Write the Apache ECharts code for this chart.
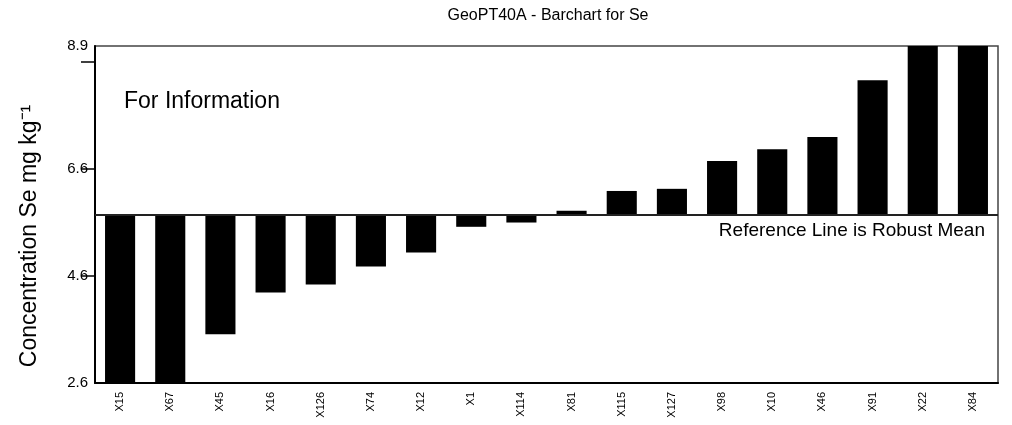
<!DOCTYPE html>
<html>
<head>
<meta charset="utf-8">
<script src="https://cdn.jsdelivr.net/npm/echarts@6/dist/echarts.min.js"></script>
<style>
  html, body { margin: 0; padding: 0; background: #fff; }
  #chart { width: 1012px; height: 425px; }
</style>
</head>
<body>
<div id="chart"></div>
<script>
// Laboratory codes, sorted by reported Se result
const labs = ['X15', 'X67', 'X45', 'X16', 'X126', 'X74', 'X12', 'X1', 'X114',
              'X81', 'X115', 'X127', 'X98', 'X10', 'X46', 'X91', 'X22', 'X84'];
// Reported concentrations (mg/kg)
const results = [2.6, 2.6, 3.51, 4.29, 4.44, 4.78, 5.04, 5.52, 5.60,
                 5.82, 6.19, 6.23, 6.75, 6.97, 7.20, 8.26, 8.9, 8.9];
// Robust mean used as the reference line
const robustMean = 5.74;
// Axis range and tick positions
const yMin = 2.6;
const yMax = 8.9;
const tickValues = [4.6, 6.6, 8.6];
const labelValues = [2.6, 4.6, 6.6, 8.9];

const FONT = 'Arial, "Liberation Sans", sans-serif';
const chart = echarts.init(document.getElementById('chart'), null, { renderer: 'canvas' });

chart.setOption({
  animation: false,
  backgroundColor: '#fff',
  title: {
    text: 'GeoPT40A - Barchart for Se',
    left: 543,
    top: 3,
    textAlign: 'center',
    textStyle: { fontFamily: FONT, fontSize: 16, fontWeight: 'normal', color: '#000' }
  },
  grid: {
    left: 95, right: 14, top: 46, bottom: 42,
    show: true, borderColor: '#444', borderWidth: 1.5, backgroundColor: 'transparent'
  },
  graphic: [{
    type: 'text',
    left: 124,
    top: 90,
    style: { text: 'For Information', font: '23px ' + FONT, fill: '#000' }
  }, {
    // y-axis title, centred over the plot and its category labels
    type: 'text',
    x: 30,
    y: 236,
    rotation: Math.PI / 2,
    style: {
      text: 'Concentration Se mg kg\u207B\u00B9',
      font: '23px ' + FONT,
      fill: '#000',
      align: 'center',
      verticalAlign: 'middle'
    }
  }],
  xAxis: {
    type: 'category',
    data: labs,
    boundaryGap: true,
    axisLine: { lineStyle: { color: '#000', width: 2 } },
    axisTick: { show: false },
    axisLabel: {
      interval: 0, rotate: 90, margin: 9,
      fontFamily: FONT, fontSize: 11, color: '#000'
    }
  },
  yAxis: {
    type: 'value',
    min: yMin,
    max: yMax,
    splitLine: { show: false },
    axisLine: { show: true, lineStyle: { color: '#000', width: 2 } },
    axisTick: {
      show: true, length: 14, customValues: tickValues,
      lineStyle: { color: '#000', width: 1.5 }
    },
    axisLabel: {
      customValues: labelValues, margin: 7,
      fontFamily: FONT, fontSize: 15, color: '#000',
      formatter: v => v.toFixed(1)
    }
  },
  series: [{
    type: 'custom',
    data: results.map((v, i) => [i, v]),
    encode: { x: 0, y: 1 },
    clip: true,
    // Each bar hangs from the robust mean to the reported value
    renderItem: (params, api) => {
      const idx = api.value(0);
      const val = api.value(1);
      const hi = api.coord([idx, Math.max(val, robustMean)]);
      const lo = api.coord([idx, Math.min(val, robustMean)]);
      const w = api.size([1, 0])[0] * 0.6;
      return {
        type: 'rect',
        shape: { x: hi[0] - w / 2, y: hi[1], width: w, height: lo[1] - hi[1] },
        style: { fill: '#000' }
      };
    },
    markLine: {
      silent: true,
      symbol: 'none',
      lineStyle: { color: '#222', width: 2, type: 'solid' },
      label: {
        show: true,
        position: 'insideEndBottom',
        distance: [13, 6],
        formatter: 'Reference Line is Robust Mean',
        fontFamily: FONT, fontSize: 19, color: '#000'
      },
      data: [{ yAxis: robustMean }]
    }
  }]
});
</script>
</body>
</html>
